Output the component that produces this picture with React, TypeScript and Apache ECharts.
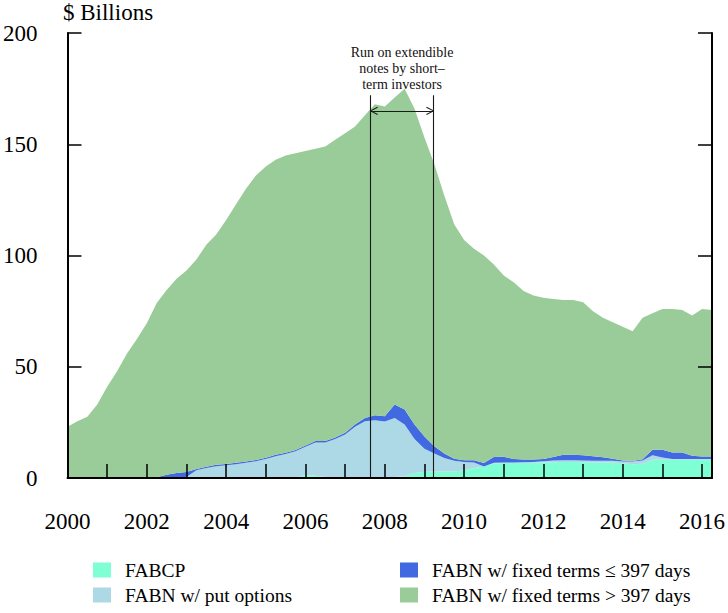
import React, { useEffect, useRef } from "react";
import * as echarts from "echarts";

// Quarter positions (decimal years)
const quarters = [
  2000, 2000.25, 2000.5, 2000.75, 2001, 2001.25, 2001.5, 2001.75,
  2002, 2002.25, 2002.5, 2002.75, 2003, 2003.25, 2003.5, 2003.75,
  2004, 2004.25, 2004.5, 2004.75, 2005, 2005.25, 2005.5, 2005.75,
  2006, 2006.25, 2006.5, 2006.75, 2007, 2007.25, 2007.5, 2007.75,
  2008, 2008.25, 2008.5, 2008.75, 2009, 2009.25, 2009.5, 2009.75,
  2010, 2010.25, 2010.5, 2010.75, 2011, 2011.25, 2011.5, 2011.75,
  2012, 2012.25, 2012.5, 2012.75, 2013, 2013.25, 2013.5, 2013.75,
  2014, 2014.25, 2014.5, 2014.75, 2015, 2015.25, 2015.5, 2015.75,
  2016, 2016.25,
];

// $ Billions, stacked from bottom to top
const fabcp = [
  0, 0, 0, 0, 0, 0, 0, 0,
  0, 0, 0, 0, 0, 0, 0, 0,
  0, 0, 0, 0, 0, 0, 0, 0,
  1.5, 1.0, 0.5, 0.5, 0.5, 0.5, 0.5, 0.5,
  0.5, 0.5, 0.8, 2.2, 2.8, 2.9, 2.9, 2.9,
  3.5, 4.5, 5.2, 6.5, 6.7, 6.7, 6.8, 6.9,
  7.0, 7.1, 7.2, 7.2, 7.1, 7.0, 7.0, 7.0,
  6.6, 6.2, 6.4, 8.2, 8.2, 8.2, 8.2, 8.2,
  8.2, 8.2,
];

const putOptions = [
  0, 0, 0, 0, 0, 0, 0, 0,
  0, 0, 0, 0, 0.5, 3.5, 4.5, 5.3,
  5.7, 6.2, 6.8, 7.5, 8.5, 9.8, 10.8, 12,
  12.5, 15, 15.5, 17, 19, 22.5, 25, 25.5,
  24.9, 26.5, 23.2, 15.3, 10.4, 8.1, 6.1, 4.9,
  3.7, 2.5, 0, 0.3, 0.3, 0.3, 0.3, 0.3,
  0.5, 0.8, 0.8, 0.8, 0.8, 0.8, 0.8, 0.8,
  0.8, 1.2, 1.5, 2.0, 1.0, 0.3, 0.3, 0.3,
  0.3, 0.3,
];

const fixedShort = [
  0, 0, 0, 0, 0, 0, 0, 0,
  0, 0.3, 1.5, 2.2, 2.2, 0.6, 0.6, 0.6,
  0.6, 0.6, 0.6, 0.6, 0.6, 0.6, 0.6, 0.6,
  0.6, 0.6, 0.6, 0.7, 0.8, 1.0, 1.5, 2.2,
  2.3, 6.0, 6.8, 6.5, 5.5, 3.3, 2.0, 0.8,
  0.8, 1.0, 1.5, 2.6, 2.5, 1.5, 1.2, 1.1,
  1.0, 1.5, 2.5, 2.5, 2.3, 2.0, 1.5, 0.8,
  0.5, 0.2, 0.5, 2.5, 3.5, 3.0, 3.0, 1.5,
  1.2, 1.2,
];

const fixedLong = [
  23, 25.5, 27.5, 33, 41, 48, 56, 62.5,
  69.5, 78.3, 83, 87.4, 90.6, 94.1, 99.7, 103.5,
  109.7, 116.2, 122.6, 127.9, 130.9, 132.6, 133.6, 133.4,
  132.4, 131.4, 132.4, 133.8, 134.7, 134, 136, 139.8,
  139.3, 138, 144.2, 142, 134.3, 126.7, 116, 105.4,
  99, 95, 93.3, 86.6, 81.5, 79.5, 75.7, 73.7,
  72.5, 71.1, 69.5, 69.5, 68.8, 65.2, 62.7, 61.4,
  60.1, 58.4, 63.6, 61.3, 63.3, 64.5, 64, 63,
  66.3, 65.8,
];

const seriesNames = [
  "FABCP",
  "FABN w/ put options",
  "FABN w/ fixed terms \u2264 397 days",
  "FABN w/ fixed terms > 397 days",
];
const seriesColors = ["#7FFFD4", "#ADD8E6", "#4169E1", "#99CC99"];

// Annotation (decimal years / $ Billions)
const runStart = 2007.64;
const runEnd = 2009.23;
const runLineTop = 172;
const arrowY = 165;
const annotationLines = ["Run on extendible", "notes by short\u2013", "term investors"];

const FONT = "Liberation Serif";

export default function App() {
  const ref = useRef<HTMLDivElement>(null);

  useEffect(() => {
    if (!ref.current) return;
    const chart = echarts.init(ref.current, null, { renderer: "svg" });
    const layers = [fabcp, putOptions, fixedShort, fixedLong];

    const areaSeries = layers.map((vals, i) => ({
      name: seriesNames[i],
      type: "line",
      stack: "total",
      xAxisIndex: 1,
      yAxisIndex: 0,
      data: vals,
      symbol: "none",
      showSymbol: false,
      color: seriesColors[i],
      itemStyle: { color: seriesColors[i] },
      lineStyle: { width: 0, color: seriesColors[i] },
      areaStyle: { color: seriesColors[i], opacity: 1 },
      silent: true,
      z: 2,
    }));

    const ah = 0.18; // arrowhead length in years
    const aw = 1.6; // arrowhead half height in $B

    const annotSeries = {
      name: "annotation",
      type: "line",
      xAxisIndex: 0,
      yAxisIndex: 0,
      data: [],
      silent: true,
      z: 5,
      markLine: {
        silent: true,
        symbol: ["none", "none"],
        label: { show: false },
        lineStyle: { color: "#1a1a1a", width: 1.1, type: "solid" },
        data: [
          [{ coord: [runStart, 0] }, { coord: [runStart, runLineTop] }],
          [{ coord: [runEnd, 0] }, { coord: [runEnd, runLineTop] }],
          [{ coord: [runStart, arrowY] }, { coord: [runEnd, arrowY] }],
          [{ coord: [runStart, arrowY] }, { coord: [runStart + ah, arrowY + aw] }],
          [{ coord: [runStart, arrowY] }, { coord: [runStart + ah, arrowY - aw] }],
          [{ coord: [runEnd, arrowY] }, { coord: [runEnd - ah, arrowY + aw] }],
          [{ coord: [runEnd, arrowY] }, { coord: [runEnd - ah, arrowY - aw] }],
        ],
      },
      markPoint: {
        silent: true,
        symbol: "rect",
        symbolSize: 1,
        itemStyle: { color: "rgba(0,0,0,0)" },
        label: {
          show: true,
          position: "inside",
          formatter: annotationLines.join("\n"),
          fontSize: 14,
          lineHeight: 16,
          color: "#111",
          fontFamily: FONT,
          align: "center",
        },
        data: [{ coord: [(runStart + runEnd) / 2, 184] }],
      },
    };

    const legendPos = [
      { left: 93, top: 560 },
      { left: 93, top: 585 },
      { left: 400, top: 560 },
      { left: 400, top: 585 },
    ];

    const legends = seriesNames.map((name, i) => ({
      orient: "vertical",
      left: legendPos[i].left,
      top: legendPos[i].top,
      padding: 0,
      itemWidth: 18,
      itemHeight: 15,
      selectedMode: false,
      textStyle: {
        fontSize: 19.5,
        lineHeight: 20,
        color: "#000",
        fontFamily: FONT,
        padding: [0, 0, 0, 9],
      },
      data: [{ name, icon: "rect", itemStyle: { color: seriesColors[i] } }],
    }));

    chart.setOption({
      animation: false,
      backgroundColor: "transparent",
      textStyle: { fontFamily: FONT },
      grid: { left: 63, right: 13, top: 33, bottom: 135, containLabel: false },
      xAxis: [
        {
          type: "value",
          min: 2000,
          max: 2016.25,
          interval: 1,
          axisLine: { show: true, onZero: false, lineStyle: { color: "#000", width: 2 } },
          axisTick: { show: true, inside: true, length: 14, lineStyle: { color: "#000", width: 1.5 } },
          axisLabel: {
            margin: 32,
            fontSize: 23,
            color: "#000",
            fontFamily: FONT,
            showMaxLabel: false,
            formatter: (v: number) =>
              Math.abs(v - Math.round(v)) < 1e-6 && Math.round(v) % 2 === 0 ? String(Math.round(v)) : "",
          },
          splitLine: { show: false },
          z: 10,
        },
        {
          type: "category",
          data: quarters.map(String),
          boundaryGap: false,
          show: false,
        },
      ],
      yAxis: [
        {
          type: "value",
          min: 0,
          max: 200,
          interval: 50,
          position: "left",
          axisLine: { show: true, lineStyle: { color: "#000", width: 2 } },
          axisTick: { show: true, inside: true, length: 14, lineStyle: { color: "#000", width: 1.5 } },
          axisLabel: { margin: 30, fontSize: 23, color: "#000", fontFamily: FONT },
          splitLine: { show: false },
          z: 10,
        },
        {
          type: "value",
          min: 0,
          max: 200,
          interval: 50,
          position: "right",
          axisLine: { show: true, lineStyle: { color: "#000", width: 2 } },
          axisTick: { show: true, inside: true, length: 14, lineStyle: { color: "#000", width: 1.5 } },
          axisLabel: { show: false },
          splitLine: { show: false },
          z: 10,
        },
      ],
      legend: legends,
      graphic: [
        {
          type: "text",
          left: 63,
          top: 1,
          style: { text: "$ Billions", fontSize: 23, fill: "#000", fontFamily: FONT },
        },
      ],
      series: [...areaSeries, annotSeries],
    });

    return () => chart.dispose();
  }, []);

  return (
    <div
      ref={ref}
      style={{ position: "absolute", left: 0, top: 0, width: 728, height: 613 }}
    />
  );
}
